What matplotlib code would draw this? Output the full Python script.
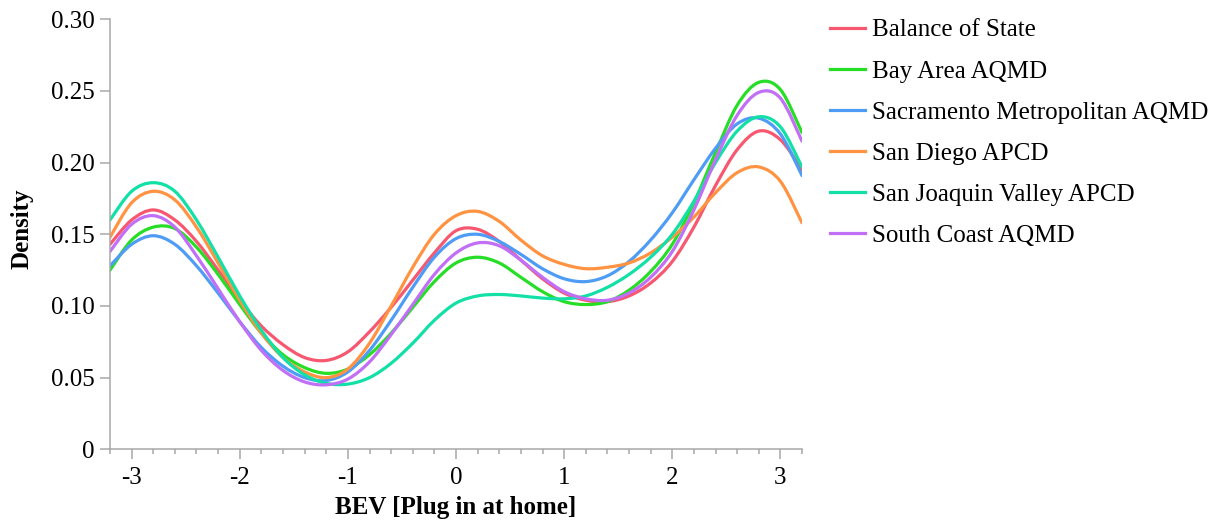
"""Density curves of the BEV home-plugging score by air district."""

import matplotlib.pyplot as plt
import numpy as np
from matplotlib.lines import Line2D
from matplotlib.patches import PathPatch
from matplotlib.path import Path

plt.rcParams["font.family"] = ["Liberation Serif", "DejaVu Serif"]
plt.rcParams["axes.unicode_minus"] = False

# values at x = -3.2, -3.0, ..., 3.2
x_grid = np.linspace(-3.2, 3.2, 33)

regions = [
    "Balance of State",
    "Bay Area AQMD",
    "Sacramento Metropolitan AQMD",
    "San Diego APCD",
    "San Joaquin Valley APCD",
    "South Coast AQMD",
]
colors = ["#f75870", "#27de27", "#4f9cf6", "#ff9341", "#12e0a6", "#c06ff6"]

balance_of_state = [0.143, 0.160, 0.167, 0.160, 0.145, 0.125, 0.104, 0.086, 0.073, 0.064, 0.062,
                    0.068, 0.082, 0.099, 0.118, 0.137, 0.1525, 0.1535, 0.145, 0.132, 0.119, 0.109,
                    0.104, 0.103, 0.107, 0.116, 0.131, 0.155, 0.184, 0.209, 0.222, 0.216, 0.195]
bay_area = [0.125, 0.146, 0.155, 0.154, 0.141, 0.122, 0.101, 0.081, 0.066, 0.057, 0.053,
            0.056, 0.066, 0.081, 0.099, 0.117, 0.130, 0.134, 0.130, 0.120, 0.110, 0.103,
            0.101, 0.103, 0.111, 0.124, 0.143, 0.172, 0.207, 0.240, 0.256, 0.251, 0.221]
sacramento = [0.128, 0.143, 0.149, 0.143, 0.128, 0.109, 0.089, 0.071, 0.058, 0.050, 0.048,
              0.054, 0.069, 0.090, 0.113, 0.134, 0.147, 0.150, 0.145, 0.136, 0.126, 0.119,
              0.117, 0.121, 0.131, 0.146, 0.165, 0.188, 0.210, 0.227, 0.231, 0.220, 0.191]
san_diego = [0.148, 0.172, 0.180, 0.174, 0.155, 0.130, 0.104, 0.081, 0.064, 0.054, 0.050,
             0.056, 0.074, 0.100, 0.127, 0.150, 0.163, 0.166, 0.159, 0.146, 0.135, 0.129,
             0.126, 0.127, 0.130, 0.137, 0.148, 0.162, 0.179, 0.193, 0.197, 0.187, 0.158]
san_joaquin = [0.160, 0.180, 0.186, 0.180, 0.160, 0.134, 0.107, 0.083, 0.064, 0.052, 0.046,
               0.0455, 0.050, 0.060, 0.074, 0.090, 0.102, 0.107, 0.108, 0.107, 0.1055, 0.105,
               0.107, 0.113, 0.122, 0.134, 0.150, 0.173, 0.200, 0.222, 0.232, 0.225, 0.197]
south_coast = [0.138, 0.157, 0.163, 0.155, 0.135, 0.112, 0.089, 0.069, 0.055, 0.047, 0.045,
               0.049, 0.061, 0.080, 0.101, 0.122, 0.137, 0.144, 0.142, 0.132, 0.120, 0.110,
               0.105, 0.104, 0.109, 0.120, 0.138, 0.167, 0.202, 0.233, 0.249, 0.245, 0.215]

series = [balance_of_state, bay_area, sacramento, san_diego, san_joaquin, south_coast]

y_ticks = [0, 0.05, 0.10, 0.15, 0.20, 0.25, 0.30]
y_tick_labels = ["0", "0.05", "0.10", "0.15", "0.20", "0.25", "0.30"]
x_ticks = [-3, -2, -1, 0, 1, 2, 3]

AXIS_GRAY = "#a8a8a8"
FONT_SIZE = 18


def smooth_path(xs, ys):
    """Catmull-Rom curve through the points, as cubic Bezier segments."""
    pts = np.column_stack([xs, ys])
    padded = np.vstack([pts[0], pts, pts[-1]])
    verts = [pts[0]]
    codes = [Path.MOVETO]
    for i in range(len(pts) - 1):
        p0, p1, p2, p3 = padded[i], padded[i + 1], padded[i + 2], padded[i + 3]
        verts += [p1 + (p2 - p0) / 6, p2 - (p3 - p1) / 6, p2]
        codes += [Path.CURVE4] * 3
    return Path(verts, codes)


fig = plt.figure(figsize=(12.14, 5.25), dpi=100)
ax = fig.add_axes([110 / 1214, 1 - 449.3 / 525, 692 / 1214, 430 / 525])

for values, color in zip(series, colors):
    ax.add_patch(PathPatch(smooth_path(x_grid, values), fill=False,
                           edgecolor=color, lw=2.3, capstyle="round"))

ax.set_xlim(-3.2, 3.2)
ax.set_ylim(0, 0.30)
ax.set_xticks(x_ticks)
ax.set_xticklabels([str(t) for t in x_ticks])
ax.set_xticks(np.linspace(-3.2, 3.2, 33), minor=True)
ax.set_yticks(y_ticks)
ax.set_yticklabels(y_tick_labels)

for side in ["top", "right"]:
    ax.spines[side].set_visible(False)
for side in ["left", "bottom"]:
    ax.spines[side].set_color(AXIS_GRAY)
    ax.spines[side].set_linewidth(1.1)

ax.tick_params(which="major", length=7, width=1.1, color=AXIS_GRAY,
               labelsize=FONT_SIZE, labelcolor="black")
ax.tick_params(axis="x", which="major", pad=6)
ax.tick_params(axis="y", which="major", pad=4)
ax.tick_params(axis="x", which="minor", length=3.5, width=1.1, color=AXIS_GRAY)
ax.tick_params(axis="y", which="minor", length=0)

ax.set_xlabel("BEV [Plug in at home]", fontsize=FONT_SIZE, fontweight="bold")
ax.set_ylabel("Density", fontsize=FONT_SIZE, fontweight="bold")
ax.xaxis.set_label_coords(0.5, -0.109)
ax.yaxis.set_label_coords(-0.110, 0.513)

handles = [Line2D([], [], color=c, lw=2.3) for c in colors]
fig.legend(handles, regions, loc="upper left", bbox_to_anchor=(830 / 1214, 1 - 19 / 525),
           frameon=False, fontsize=FONT_SIZE, handlelength=1.4, handletextpad=0.28,
           labelspacing=0.745, borderpad=0, borderaxespad=0)

fig.savefig("out.png", dpi=100)
